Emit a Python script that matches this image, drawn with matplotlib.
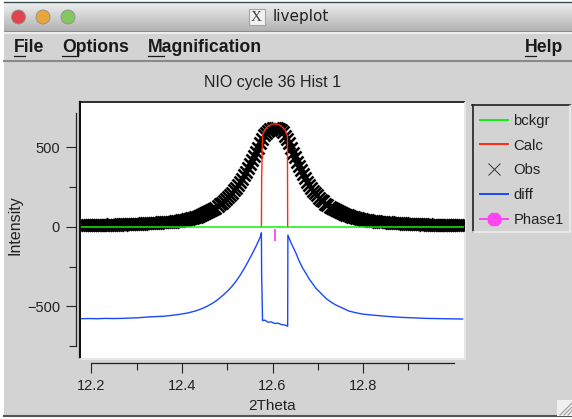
#!/usr/bin/env python3
"""Recreate the liveplot window: NIO cycle 36 Hist 1."""

import matplotlib
matplotlib.use("Agg")
import matplotlib.pyplot as plt
from matplotlib.lines import Line2D
from matplotlib.patches import Circle, Rectangle
import numpy as np

plt.rcParams['font.family'] = ['Liberation Sans', 'DejaVu Sans']

# observed points
obs_theta = [
    12.1770, 12.1815, 12.1860, 12.1905, 12.1950, 12.1995, 12.2040, 12.2085, 12.2130, 12.2175,
    12.2220, 12.2265, 12.2310, 12.2355, 12.2400, 12.2445, 12.2490, 12.2535, 12.2580, 12.2625,
    12.2670, 12.2715, 12.2760, 12.2805, 12.2850, 12.2895, 12.2940, 12.2985, 12.3030, 12.3075,
    12.3120, 12.3165, 12.3210, 12.3255, 12.3300, 12.3345, 12.3390, 12.3435, 12.3480, 12.3525,
    12.3570, 12.3615, 12.3660, 12.3705, 12.3750, 12.3795, 12.3840, 12.3885, 12.3930, 12.3975,
    12.4020, 12.4065, 12.4110, 12.4155, 12.4200, 12.4245, 12.4290, 12.4335, 12.4380, 12.4425,
    12.4470, 12.4515, 12.4560, 12.4605, 12.4650, 12.4695, 12.4740, 12.4785, 12.4830, 12.4875,
    12.4920, 12.4965, 12.5010, 12.5055, 12.5100, 12.5145, 12.5190, 12.5235, 12.5280, 12.5325,
    12.5370, 12.5415, 12.5460, 12.5505, 12.5550, 12.5595, 12.5640, 12.5685, 12.5730, 12.5775,
    12.5820, 12.5865, 12.5910, 12.5955, 12.6000, 12.6045, 12.6090, 12.6135, 12.6180, 12.6225,
    12.6270, 12.6315, 12.6360, 12.6405, 12.6450, 12.6495, 12.6540, 12.6585, 12.6630, 12.6675,
    12.6720, 12.6765, 12.6810, 12.6855, 12.6900, 12.6945, 12.6990, 12.7035, 12.7080, 12.7125,
    12.7170, 12.7215, 12.7260, 12.7305, 12.7350, 12.7395, 12.7440, 12.7485, 12.7530, 12.7575,
    12.7620, 12.7665, 12.7710, 12.7755, 12.7800, 12.7845, 12.7890, 12.7935, 12.7980, 12.8025,
    12.8070, 12.8115, 12.8160, 12.8205, 12.8250, 12.8295, 12.8340, 12.8385, 12.8430, 12.8475,
    12.8520, 12.8565, 12.8610, 12.8655, 12.8700, 12.8745, 12.8790, 12.8835, 12.8880, 12.8925,
    12.8970, 12.9015, 12.9060, 12.9105, 12.9150, 12.9195, 12.9240, 12.9285, 12.9330, 12.9375,
    12.9420, 12.9465, 12.9510, 12.9555, 12.9600, 12.9645, 12.9690, 12.9735, 12.9780, 12.9825,
    12.9870, 12.9915, 12.9960, 13.0005, 13.0050, 13.0095, 13.0140, 13.0185,
]
obs_counts = [
    12, 11, 13, 12, 14, 11, 13, 12, 13, 12,
    13, 12, 14, 13, 12, 15, 13, 14, 13, 15,
    14, 16, 15, 17, 16, 18, 17, 19, 18, 20,
    20, 21, 22, 21, 23, 24, 25, 24, 26, 27,
    27, 29, 28, 30, 32, 33, 35, 36, 39, 41,
    43, 45, 47, 50, 53, 56, 60, 64, 69, 74,
    79, 85, 91, 98, 105, 113, 121, 131, 141, 152,
    163, 175, 187, 200, 214, 229, 246, 264, 283, 303,
    325, 347, 371, 395, 419, 444, 470, 497, 525, 553,
    575, 590, 602, 612, 619, 623, 620, 615, 606, 594,
    570, 552, 525, 495, 465, 438, 410, 382, 356, 332,
    308, 284, 262, 243, 227, 212, 197, 183, 171, 159,
    143, 135, 127, 119, 112, 105, 99, 92, 87, 81,
    76, 71, 67, 63, 59, 56, 53, 50, 47, 44,
    42, 40, 39, 37, 36, 34, 33, 32, 31, 30,
    28, 27, 26, 26, 24, 23, 22, 23, 21, 20,
    19, 20, 18, 17, 18, 16, 17, 15, 16, 14,
    15, 13, 14, 12, 13, 12, 13, 11, 12, 11,
    11, 10, 12, 10, 11, 9, 11, 10,
]

# calculated profile, only inside the peak window
calc_theta = [12.5755, 12.576, 12.578, 12.583, 12.590, 12.598, 12.605, 12.612, 12.620, 12.628, 12.633, 12.6335]
calc_counts = [0, 300, 577, 610, 632, 644, 647, 644, 632, 606, 570, 0]

bckgr_theta = [12.1768, 13.0232]
bckgr_counts = [0, 0]

diff_theta = [
    12.177, 12.195, 12.213, 12.231, 12.249, 12.267, 12.285, 12.303, 12.321, 12.339,
    12.357, 12.375, 12.393, 12.411, 12.429, 12.438, 12.447, 12.456, 12.465, 12.474,
    12.483, 12.492, 12.501, 12.510, 12.519, 12.528, 12.537, 12.546, 12.555, 12.564,
    12.573, 12.5755, 12.576, 12.578, 12.583, 12.590, 12.597, 12.605, 12.612, 12.620,
    12.628, 12.633, 12.6335, 12.634, 12.640, 12.645, 12.652, 12.660, 12.667, 12.674,
    12.681, 12.690, 12.696, 12.705, 12.718, 12.729, 12.740, 12.750, 12.769, 12.785,
    12.799, 12.820, 12.844, 12.865, 12.888, 12.915, 12.939, 12.980, 13.020,
]
diff_counts = [
    -578, -577, -578, -576, -577, -576, -574, -572, -568, -565,
    -563, -558, -551, -543, -530, -521, -511, -499, -485, -469,
    -449, -427, -403, -376, -344, -307, -265, -219, -171, -120,
    -65, -38, -300, -590, -587, -600, -598, -608, -606, -615,
    -618, -625, -625, -52, -95, -125, -167, -222, -262, -293,
    -328, -363, -387, -412, -450, -473, -492, -505, -530, -541,
    -549, -555, -561, -566, -570, -573, -576, -578, -580,
]

phase_theta = [12.6055]
phase_level = [-50]

x_ticks = [12.2, 12.4, 12.6, 12.8]
x_minor_ticks = [12.3, 12.5, 12.7, 12.9]
y_ticks = [-500, 0, 500]
y_minor_ticks = [-750, -250, 250]
legend_labels = ["bckgr", "Calc", "Obs", "diff", "Phase1"]

GREY = "#d3d3d3"
TEXT = "#222222"
C_BCK = "#10f010"
C_CALC = "#ff2a12"
C_DIFF = "#1a48ff"
C_PHASE = "#ff44f0"

fig = plt.figure(figsize=(5.72, 4.19), dpi=100, facecolor="white")

# window chrome, drawn in pixel coordinates
chrome = fig.add_axes([0, 0, 1, 1])
chrome.set_xlim(0, 572)
chrome.set_ylim(419, 0)
chrome.axis("off")

chrome.add_patch(Rectangle((4, 3), 568, 413, fc=GREY, ec="none"))
gradient = np.linspace(0.93, 0.70, 40).reshape(-1, 1)
chrome.imshow(gradient, extent=(4, 572, 31, 3), cmap="gray", vmin=0, vmax=1, aspect="auto", zorder=1)
chrome.set_xlim(0, 572)
chrome.set_ylim(419, 0)
chrome.plot([4, 572], [2.5, 2.5], color="#33504f", lw=1, zorder=2)
chrome.plot([4, 572], [31.5, 31.5], color="#8d8d8d", lw=0.8, zorder=2)
chrome.plot([4, 572], [33.5, 33.5], color="#f4f4f4", lw=1.2, zorder=2)
chrome.plot([4, 572], [61.5, 61.5], color="#8a8a8a", lw=1.5, zorder=2)
chrome.plot([4, 572], [416, 416], color="#555555", lw=1.5, zorder=2)

for cx, face in [(18.5, "#e0444c"), (43, "#e6a63c"), (68, "#84c660")]:
    chrome.add_patch(Circle((cx, 17), 7, fc=face, ec="#8f8f8f", lw=0.6, zorder=3))

chrome.add_patch(Rectangle((248.5, 9.5), 16, 16, fc="#f2f2f2", ec="#a5a5a5", lw=0.8, zorder=3))
chrome.text(256.5, 17.5, "X", ha="center", va="center", fontsize=11, color="#444444",
            family="Liberation Serif", zorder=4)
chrome.text(273, 17, "liveplot", ha="left", va="center", fontsize=11, color="#222222",
            family="DejaVu Sans", zorder=4)

# menu bar, first letters underlined
for label, xpos, ul_end in [("File", 14, 25), ("Options", 62, 78), ("Magnification", 148, 164), ("Help", 525, 536)]:
    chrome.text(xpos, 47.5, label, ha="left", va="center", fontsize=12.7, fontweight="bold",
                color="#1a1a1a", zorder=4)
    chrome.plot([xpos, ul_end], [56, 56], color="#1a1a1a", lw=0.9, zorder=4)

# sunken frame round the plot
chrome.plot([80, 80], [102, 358], color="#111111", lw=1.6, zorder=2)
chrome.plot([80, 464], [102.5, 102.5], color="#111111", lw=1.2, zorder=2)
chrome.plot([465, 465, 80], [103, 358.5, 358.5], color="#ececec", lw=1.2, zorder=2)

# sunken frame round the legend
chrome.plot([472.5, 472.5], [105, 232], color="#222222", lw=1.2, zorder=2)
chrome.plot([472, 570], [105.5, 105.5], color="#222222", lw=1.2, zorder=2)
chrome.plot([570, 570, 473], [106, 232, 232], color="#ececec", lw=1.2, zorder=2)

# resize grip
chrome.add_patch(Rectangle((557, 400), 15, 16, fc="#f0f0f0", ec="none", zorder=2))
for off in (4, 8, 12):
    chrome.plot([572 - off, 572], [415, 415 - off], color="#9a9a9a", lw=0.8, zorder=3)

# plot area
ax = fig.add_axes([81 / 572, 1 - 358 / 419, 383 / 572, 255 / 419])
ax.set_xlim(12.1768, 13.0232)
ax.set_ylim(-825, 778)

ax.plot(obs_theta, obs_counts, linestyle="none", marker="x", color="black", ms=8, mew=1.9, zorder=2)
ax.plot(calc_theta, calc_counts, color=C_CALC, lw=1.0, zorder=3)
ax.plot(diff_theta, diff_counts, color=C_DIFF, lw=1.0, zorder=3)
ax.plot(bckgr_theta, bckgr_counts, color=C_BCK, lw=1.1, zorder=4)
ax.plot(phase_theta, phase_level, linestyle="none", marker="|", color=C_PHASE, ms=8, mew=1.3, zorder=3)

for side in ("top", "right"):
    ax.spines[side].set_visible(False)
ax.spines["left"].set_position(("outward", 3.6))
ax.spines["bottom"].set_position(("outward", 3.6))
ax.spines["left"].set_bounds(-750, 715)
ax.spines["bottom"].set_bounds(12.2, 13.0)
ax.spines["left"].set_linewidth(0.9)
ax.spines["bottom"].set_linewidth(0.9)
ax.spines["left"].set_color("#222222")
ax.spines["bottom"].set_color("#222222")

ax.set_xticks(x_ticks)
ax.set_yticks(y_ticks)
ax.set_xticks(x_minor_ticks, minor=True)
ax.set_yticks(y_minor_ticks, minor=True)
ax.tick_params(which="major", length=7, width=0.8, labelsize=10.5, color="#222222", labelcolor=TEXT, pad=4.5)
ax.tick_params(which="minor", length=4.7, width=0.8, color="#222222")

ax.set_xlabel("2Theta", fontsize=11, color=TEXT, labelpad=4)
ax.set_ylabel("Intensity", fontsize=11.5, color=TEXT, labelpad=3.4, y=0.52)
ax.set_title("NIO cycle 36 Hist 1", fontsize=11.5, color=TEXT, pad=11.5)

# legend from proxy handles
handles = [
    Line2D([], [], color=C_BCK, lw=1.4),
    Line2D([], [], color=C_CALC, lw=1.4),
    Line2D([], [], color="#333333", linestyle="none", marker="x", ms=8.5, mew=0.7),
    Line2D([], [], color=C_DIFF, lw=1.4),
    Line2D([], [], color=C_PHASE, lw=1.4, marker="8", ms=10),
]
fig.legend(handles, legend_labels, loc="upper left", bbox_to_anchor=(480 / 572, 1 - 114 / 419),
           frameon=False, fontsize=10.7, labelcolor=TEXT, handlelength=1.9, handletextpad=0.34,
           labelspacing=0.72, borderpad=0, borderaxespad=0)

plt.savefig("out.png", dpi=100)
